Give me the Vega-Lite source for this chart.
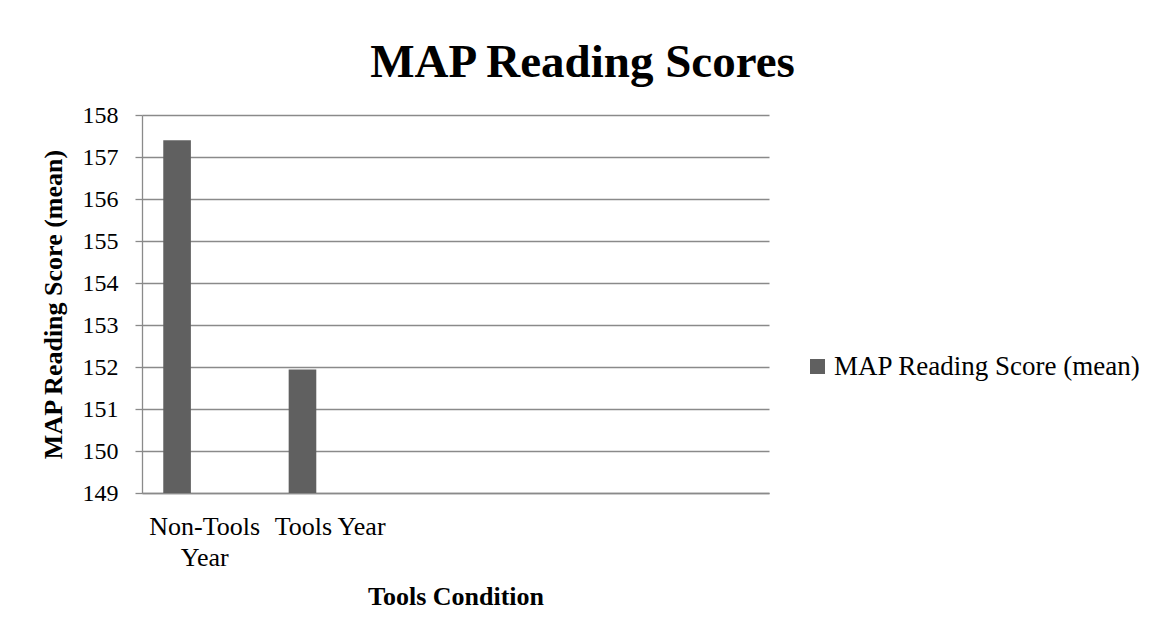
{
  "$schema": "https://vega.github.io/schema/vega-lite/v6.json",
  "autosize": {"type": "none"},
  "width": 627,
  "height": 378,
  "padding": {"left": 142, "top": 115, "right": 387, "bottom": 143},
  "background": "white",
  "config": {
    "font": "Liberation Serif",
    "view": {"stroke": null}
  },
  "title": {
    "text": "MAP Reading Scores",
    "font": "Liberation Serif",
    "fontSize": 47,
    "fontWeight": "bold",
    "color": "#000000",
    "anchor": "middle",
    "frame": "group",
    "dx": 127,
    "offset": 16
  },
  "data": {
    "values": [
      {"condition": "Non-Tools Year", "series": "MAP Reading Score (mean)", "score": 157.4},
      {"condition": "Tools Year", "series": "MAP Reading Score (mean)", "score": 151.94}
    ]
  },
  "mark": {"type": "bar", "color": "#606060"},
  "encoding": {
    "x": {
      "field": "condition",
      "type": "nominal",
      "sort": null,
      "scale": {"domain": ["Non-Tools Year", "Tools Year", "c3", "c4", "c5"], "paddingInner": 0, "paddingOuter": 0},
      "axis": {
        "title": "Tools Condition",
        "titleFont": "Liberation Serif",
        "titleFontSize": 26,
        "titleFontWeight": "bold",
        "titleColor": "#000000",
        "titlePadding": 13,
        "labelFont": "Liberation Serif",
        "labelFontSize": 26,
        "labelColor": "#000000",
        "labelAngle": 0,
        "labelPadding": 20,
        "labelLineHeight": 31,
        "labelLimit": 0,
        "labelExpr": "datum.label == 'Non-Tools Year' ? ['Non-Tools', 'Year'] : (datum.label == 'Tools Year' ? 'Tools Year' : '')",
        "ticks": false,
        "domain": true,
        "domainColor": "#8a8a8a",
        "domainWidth": 1.3,
        "grid": false
      }
    },
    "xOffset": {
      "field": "series",
      "type": "nominal",
      "scale": {"domain": ["MAP Reading Score (mean)", "Series 2", "Series 3"], "paddingInner": 0, "paddingOuter": 0.77}
    },
    "y": {
      "field": "score",
      "type": "quantitative",
      "scale": {"domain": [149, 158], "zero": false, "nice": false},
      "axis": {
        "title": "MAP Reading Score (mean)",
        "titleFont": "Liberation Serif",
        "titleFontSize": 26,
        "titleFontWeight": "bold",
        "titleColor": "#000000",
        "titlePadding": 16,
        "labelFont": "Liberation Serif",
        "labelFontSize": 24,
        "labelColor": "#000000",
        "labelPadding": 17,
        "values": [149, 150, 151, 152, 153, 154, 155, 156, 157, 158],
        "ticks": true,
        "tickSize": 7,
        "tickColor": "#8a8a8a",
        "tickWidth": 1.3,
        "domain": true,
        "domainColor": "#8a8a8a",
        "domainWidth": 1.3,
        "grid": true,
        "gridColor": "#8a8a8a",
        "gridWidth": 1.3
      }
    },
    "y2": {"datum": 149},
    "color": {
      "field": "series",
      "type": "nominal",
      "scale": {"range": ["#606060"]},
      "legend": {
        "title": null,
        "orient": "none",
        "legendX": 662,
        "legendY": 238,
        "symbolType": "square",
        "symbolSize": 225,
        "symbolStrokeWidth": 0,
        "symbolOpacity": 1,
        "labelFont": "Liberation Serif",
        "labelFontSize": 27,
        "labelColor": "#000000",
        "labelOffset": 3,
        "labelLimit": 0
      }
    }
  }
}
